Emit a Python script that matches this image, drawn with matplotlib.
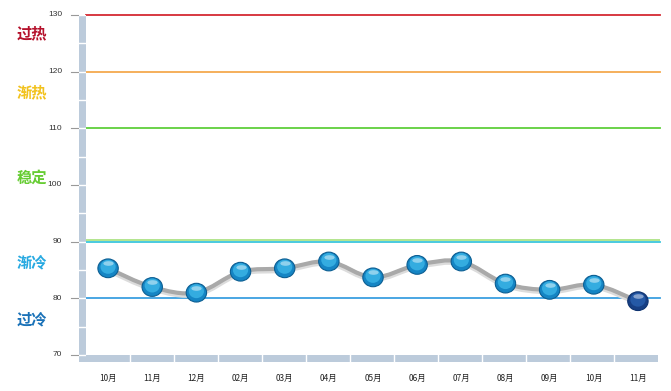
import numpy as np
import matplotlib
matplotlib.use('Agg')
import matplotlib.pyplot as plt
from matplotlib.path import Path
from matplotlib.patches import PathPatch
from matplotlib.transforms import offset_copy, Affine2D, blended_transform_factory

plt.rcParams['font.family'] = ['Noto Sans CJK SC', 'DejaVu Sans']

months = ['10月', '11月', '12月', '02月', '03月', '04月', '05月',
          '06月', '07月', '08月', '09月', '10月', '11月']
values = [85.3, 82.0, 81.0, 84.7, 85.3, 86.5, 83.7, 85.9, 86.5, 82.6, 81.5, 82.4, 79.5]

levels = [130, 120, 110, 90, 80]
level_colors = ['#d42a33', '#f5a94e', '#5fcf3b', '#3cc6dc', '#3a9fe0']
zone_names = ['过热', '渐热', '稳定', '渐冷', '过冷']
zone_pos = [126.8, 116.4, 101.2, 86.4, 76.2]
zone_colors = ['#b5122c', '#f2c21e', '#66cc33', '#27a9e1', '#1a72b8']
yticks = [70, 80, 90, 100, 110, 120, 130]

W, H = 671, 391
fig = plt.figure(figsize=(W / 100, H / 100), dpi=100)

def box(x0, y0, x1, y1):
    # pixel box (top-left origin) -> figure fraction
    return [x0 / W, (H - y1) / H, (x1 - x0) / W, (y1 - y0) / H]

ax = fig.add_axes(box(86, 15, 660, 355))
n = len(months)
ax.set_xlim(-0.5, n - 0.5)
ax.set_ylim(70, 130)
ax.axis('off')

for lv, c in zip(levels, level_colors):
    if lv == 90:
        ax.axhline(lv + 0.25, color='#a6e07a', lw=1.2, zorder=1)
    ax.axhline(lv, color=c, lw=1.3, zorder=1, clip_on=False)

# smooth line
x = np.arange(n, dtype=float)
y = np.array(values)
verts = [(x[0], y[0])]
codes = [Path.MOVETO]
for i in range(n - 1):
    p0 = (x[i - 1], y[i - 1]) if i > 0 else (x[i], y[i])
    p3 = (x[i + 2], y[i + 2]) if i + 2 < n else (x[i + 1], y[i + 1])
    c1 = (x[i] + (x[i + 1] - p0[0]) / 6, y[i] + (y[i + 1] - p0[1]) / 6)
    c2 = (x[i + 1] - (p3[0] - x[i]) / 6, y[i + 1] - (p3[1] - y[i]) / 6)
    verts += [c1, c2, (x[i + 1], y[i + 1])]
    codes += [Path.CURVE4] * 3
path = Path(verts, codes)
ax.add_patch(PathPatch(path, fill=False, ec='#dcdcdc', lw=4.2, zorder=2,
                       transform=offset_copy(ax.transData, fig=fig, x=0, y=-1.5, units='dots')))
ax.add_patch(PathPatch(path, fill=False, ec='#a9a9a9', lw=3.0, zorder=3, capstyle='round'))

# glossy markers
face = ['#1585c4'] * (n - 1) + ['#173f84']
inner = ['#34ace0'] * (n - 1) + ['#2559a6']
edge = ['#0c5e92'] * (n - 1) + ['#0e3370']
oval = Path.unit_circle().transformed(Affine2D().scale(1.0, 0.92))
ax.scatter(x, y, s=215, marker=oval, c=face, edgecolors=edge, linewidths=0.8, zorder=4)
ax.scatter(x, y, s=120, marker=oval, c=inner, linewidths=0, zorder=5,
           transform=offset_copy(ax.transData, fig=fig, x=0, y=1.5, units='dots'))
hl = Path.unit_circle().transformed(Affine2D().scale(1.0, 0.45))
ax.scatter(x, y, s=55, marker=hl, c='white', alpha=0.45, linewidths=0, zorder=6,
           transform=offset_copy(ax.transData, fig=fig, x=0, y=5, units='dots'))

# left bar
lb = fig.add_axes(box(78.5, 15, 85.7, 362))
lb.set_xlim(0, 1)
lb.set_ylim(70 - 7 / (340 / 60), 130)
lb.axis('off')
lb.axvspan(0, 1, color='#bccbdb')
for t in range(70, 131, 5):
    lb.axhline(t, color='white', lw=1)

# bottom bar
bb = fig.add_axes(box(86, 355, 658, 362))
bb.set_xlim(-0.5, n - 0.5)
bb.set_ylim(0, 1)
bb.axis('off')
bb.axhspan(0, 1, color='#bccbdb')
for i in range(n - 1):
    bb.axvline(i + 0.5, color='white', lw=1)

# y tick labels and ticks
tick_tr = blended_transform_factory(fig.transFigure, ax.transData)
for t in yticks:
    ax.annotate(str(t), xy=(0, t), xycoords=('figure fraction', 'data'),
                xytext=(62, 0), textcoords='offset pixels', ha='right', va='center',
                fontsize=6, color='#333333', family=['Liberation Sans'])
    ax.plot([71 / W, 78 / W], [t, t], color='#999999', lw=0.8,
            transform=tick_tr, clip_on=False)

for name, pos, c in zip(zone_names, zone_pos, zone_colors):
    ax.annotate(name, xy=(32 / W, pos), xycoords=('figure fraction', 'data'),
                ha='center', va='center', fontsize=11, fontweight='bold', color=c)

for i, m in enumerate(months):
    ax.annotate(m, xy=(i, 0), xycoords=('data', 'figure fraction'),
                xytext=(0, H - 378), textcoords='offset pixels', ha='center', va='center',
                fontsize=6, color='#222222')

fig.savefig('out.png', dpi=100, facecolor='white')
